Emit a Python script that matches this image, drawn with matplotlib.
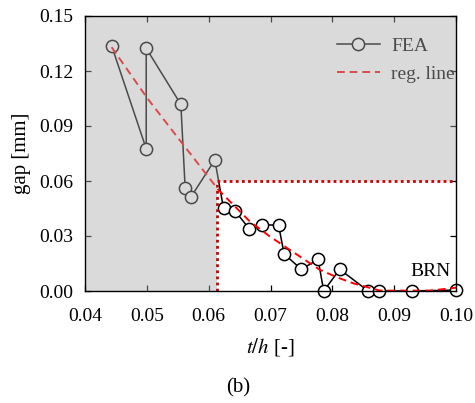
import numpy as np
import matplotlib as mpl
mpl.use('Agg')
from matplotlib import pyplot as plt
from matplotlib.patches import Polygon

mpl.rcParams['font.family'] = 'serif'
mpl.rcParams['font.serif'] = ['Liberation Serif', 'DejaVu Serif']
mpl.rcParams['mathtext.fontset'] = 'stix'
mpl.rcParams['xtick.direction'] = 'in'
mpl.rcParams['ytick.direction'] = 'in'
mpl.rcParams['xtick.top'] = True
mpl.rcParams['ytick.right'] = True

# FEA results (in drawing order)
th_fea = [0.0443, 0.0499, 0.0499, 0.0555, 0.0562, 0.0571, 0.0610, 0.0624,
          0.0643, 0.0666, 0.0687, 0.0713, 0.0722, 0.0750, 0.0777, 0.0786,
          0.0812, 0.0858, 0.0875, 0.0929, 0.1000]
gap_fea = [0.1338, 0.0776, 0.1324, 0.1018, 0.0560, 0.0511, 0.0715, 0.0451,
           0.0436, 0.0337, 0.0360, 0.0360, 0.0202, 0.0118, 0.0173, 0.0000,
           0.0118, 0.0000, 0.0000, 0.0000, 0.0005]

# regression line
th_reg = [0.0443, 0.0500, 0.0555, 0.0616, 0.0667, 0.0700, 0.0748, 0.0780,
          0.0812, 0.0834, 0.0877, 0.0958, 0.1000]
gap_reg = [0.1330, 0.1055, 0.0815, 0.0551, 0.0378, 0.0295, 0.0187, 0.0115,
           0.0069, 0.0042, 0.0002, 0.0002, 0.0018]

# threshold box
th_crit = 0.0613
gap_crit = 0.060

xmin, xmax = 0.04, 0.10
ymin, ymax = 0.0, 0.15

f = plt.figure(figsize=(4.75, 4.03), dpi=100)
ax1 = f.add_axes([85 / 475, 112 / 403, 371 / 475, 275 / 403])

ax1.plot(th_fea, gap_fea, color='black', lw=1.1, marker='o', ms=8.8,
         mfc='white', mec='black', mew=1.1, label='FEA', clip_on=False, zorder=2)
ax1.plot(th_reg, gap_reg, color='red', lw=1.4, ls=(0, (4, 2.5)),
         label='reg. line', clip_on=False, zorder=2.2)

leg = ax1.legend(loc='upper left', bbox_to_anchor=(0.679, 0.924), frameon=False,
                 fontsize=14, handlelength=2.2, handletextpad=0.6,
                 borderaxespad=0, borderpad=0, labelspacing=0.55)
leg.set_zorder(2.5)

# grey overlay outside the admissible box
shade = Polygon([(xmin, ymin), (th_crit, ymin), (th_crit, gap_crit),
                 (xmax, gap_crit), (xmax, ymax), (xmin, ymax)],
                closed=True, facecolor='#ababab', edgecolor='none',
                alpha=0.44, zorder=3)
ax1.add_patch(shade)

ax1.plot([th_crit, th_crit], [ymin, gap_crit], color='#cc0000', lw=2.0,
         ls=(0, (1, 1.2)), zorder=4)
ax1.plot([th_crit, xmax], [gap_crit, gap_crit], color='#cc0000', lw=2.0,
         ls=(0, (1, 1.2)), zorder=4)

ax1.text(0.0958, 0.0104, 'BRN', fontsize=14, ha='center', va='center', zorder=5)

ax1.set_xlim(xmin, xmax)
ax1.set_ylim(ymin, ymax)
ax1.set_xticks(np.arange(0.04, 0.1001, 0.01))
ax1.set_yticks(np.arange(0.0, 0.1501, 0.03))
ax1.set_xticklabels(['0.04', '0.05', '0.06', '0.07', '0.08', '0.09', '0.10'])
ax1.set_yticklabels(['0.00', '0.03', '0.06', '0.09', '0.12', '0.15'])
ax1.tick_params('both', length=4.5, width=0.9, labelsize=14)
ax1.tick_params(axis='x', pad=12)
ax1.tick_params(axis='y', pad=8.5)
for sp in ax1.spines.values():
    sp.set_linewidth(1.0)
    sp.set_zorder(6)

ax1.set_xlabel(r'$t/h$ [-]', fontsize=15, labelpad=8)
ax1.set_ylabel('gap [mm]', fontsize=15, labelpad=6)

f.text(238 / 475, 1 - 388 / 403, '(b)', fontsize=15, ha='center', va='center')

f.savefig('out.png', dpi=100)
